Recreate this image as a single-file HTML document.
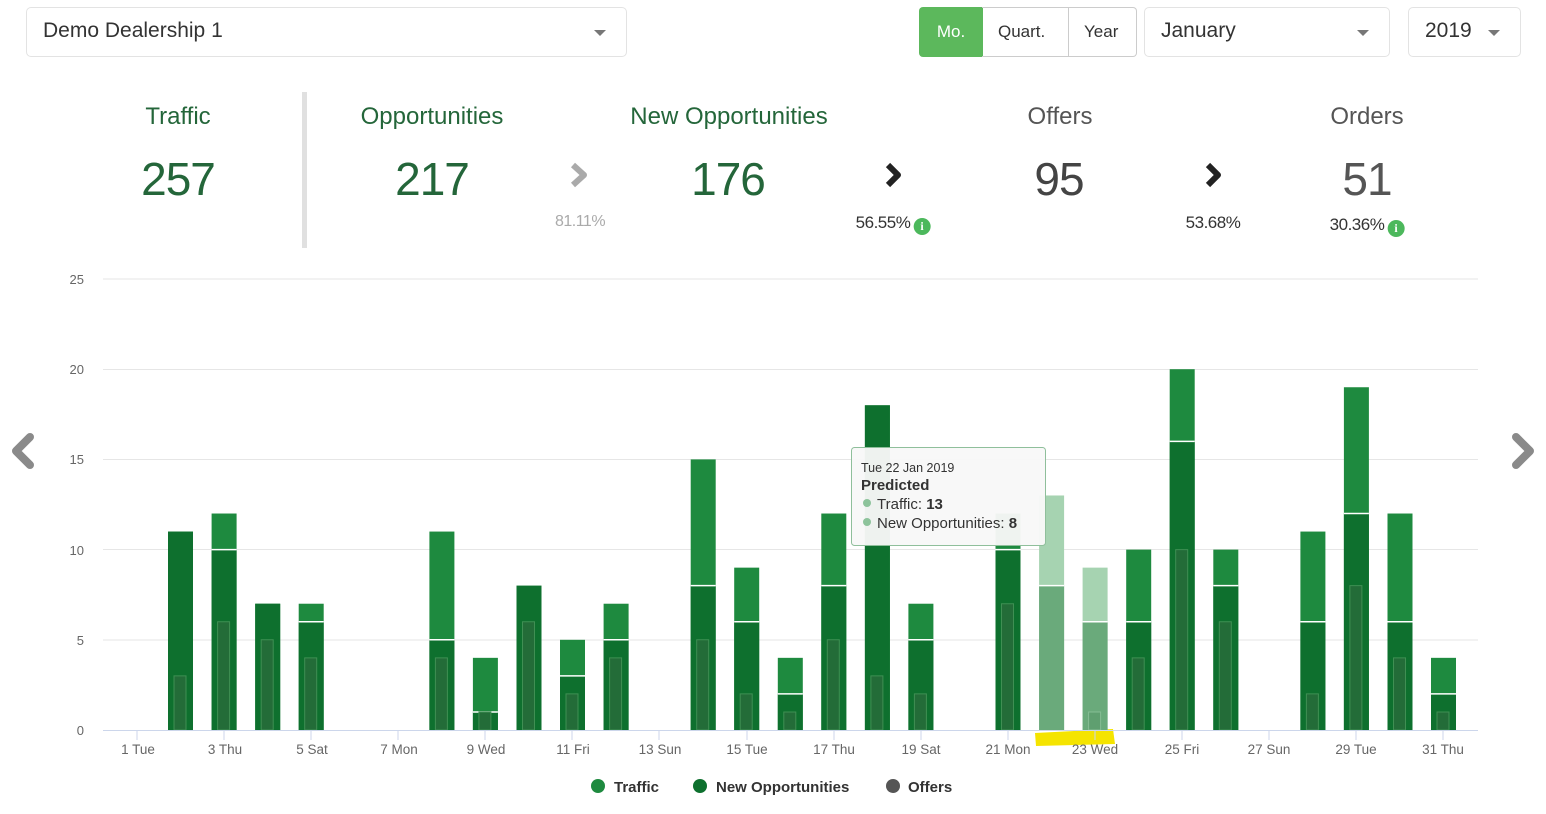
<!DOCTYPE html>
<html><head><meta charset="utf-8"><style>
body{margin:0;width:1546px;height:814px;background:#fff;font-family:"Liberation Sans",sans-serif;position:relative;overflow:hidden}
.a{position:absolute}
.box{position:absolute;border:1px solid #e3e3e3;border-radius:5px;background:#fff;box-sizing:border-box}
.caret{position:absolute;width:0;height:0;border-left:6px solid transparent;border-right:6px solid transparent;border-top:6px solid #777}
.t{position:absolute;text-align:center;font-size:24px;color:#24663a;transform:translateX(-50%);white-space:nowrap}
.n{position:absolute;text-align:center;font-size:46px;color:#24663a;transform:translateX(-50%);white-space:nowrap;letter-spacing:-1px}
.p{position:absolute;font-size:17px;color:#333;transform:translateX(-50%);white-space:nowrap;letter-spacing:-0.5px}
.i{display:inline-block;width:17px;height:17px;border-radius:50%;background:#4cb85c;color:#fff;font-size:12px;font-weight:bold;text-align:center;line-height:17px;vertical-align:-2px;margin-left:3px;font-family:"Liberation Serif",serif}
</style></head><body>
<div class="box" style="left:26px;top:7px;width:601px;height:50px"></div>
<div class="a" style="left:43px;top:19px;font-size:21px;color:#333">Demo Dealership 1</div>
<div class="caret" style="left:594px;top:30px"></div>

<div class="a" style="left:919px;top:7px;width:64px;height:50px;background:#5cb85c;border-radius:4px 0 0 4px;color:#fff;font-size:17px;text-align:center;line-height:50px">Mo.</div>
<div class="a" style="left:982px;top:7px;width:155px;height:50px;border:1px solid #ccc;border-left:none;box-sizing:border-box;border-radius:0 4px 4px 0"></div>
<div class="a" style="left:1068px;top:7px;width:1px;height:50px;background:#ccc"></div>
<div class="a" style="left:998px;top:22px;font-size:17px;color:#333">Quart.</div>
<div class="a" style="left:1084px;top:22px;font-size:17px;color:#333">Year</div>
<div class="box" style="left:1144px;top:7px;width:246px;height:50px"></div>
<div class="a" style="left:1161px;top:19px;font-size:21px;color:#333">January</div>
<div class="caret" style="left:1357px;top:30px"></div>
<div class="box" style="left:1408px;top:7px;width:113px;height:50px"></div>
<div class="a" style="left:1425px;top:19px;font-size:21px;color:#333">2019</div>
<div class="caret" style="left:1488px;top:30px"></div>

<div class="a" style="left:302px;top:92px;width:5px;height:156px;background:#e0e0e0"></div>
<div class="t" style="left:178px;top:103px">Traffic</div>
<div class="t" style="left:432px;top:103px">Opportunities</div>
<div class="t" style="left:729px;top:103px">New Opportunities</div>
<div class="t" style="left:1060px;top:103px;color:#555">Offers</div>
<div class="t" style="left:1367px;top:103px;color:#555">Orders</div>
<div class="n" style="left:178px;top:152px">257</div>
<div class="n" style="left:432px;top:152px">217</div>
<div class="n" style="left:728px;top:152px">176</div>
<div class="n" style="left:1059px;top:152px;color:#444">95</div>
<div class="n" style="left:1367px;top:152px;color:#555">51</div>
<svg class="a" style="left:0;top:0" width="1546" height="814">
<path d="M573 165 L584 175 L573 185" fill="none" stroke="#aaa" stroke-width="6" stroke-linejoin="round"/>
<path d="M888 165 L898 175 L888 185" fill="none" stroke="#222" stroke-width="6" stroke-linejoin="round"/>
<path d="M1208 165 L1218 175 L1208 185" fill="none" stroke="#222" stroke-width="6" stroke-linejoin="round"/>
<path d="M30 437 L16 451 L30 465" fill="none" stroke="#8a8a8a" stroke-width="8" stroke-linejoin="round" stroke-linecap="round"/>
<path d="M1516 437 L1530 451 L1516 465" fill="none" stroke="#8a8a8a" stroke-width="8" stroke-linejoin="round" stroke-linecap="round"/>
</svg>
<div class="p" style="left:580px;top:213px;color:#aaa;font-size:16px">81.11%</div>
<div class="p" style="left:893px;top:213px">56.55%<span class="i">i</span></div>
<div class="p" style="left:1213px;top:213px">53.68%</div>
<div class="p" style="left:1367px;top:215px">30.36%<span class="i">i</span></div>

<svg class="a" style="left:0;top:0" width="1546" height="814" font-family="'Liberation Sans',sans-serif">
<g stroke="#e6e6e6" stroke-width="1">
<line x1="103" x2="1478" y1="279" y2="279"/><line x1="103" x2="1478" y1="369.5" y2="369.5"/><line x1="103" x2="1478" y1="459.5" y2="459.5"/><line x1="103" x2="1478" y1="549.5" y2="549.5"/><line x1="103" x2="1478" y1="640" y2="640"/>
</g>
<g font-size="13" fill="#666" text-anchor="end">
<text x="84" y="284">25</text><text x="84" y="374">20</text><text x="84" y="464">15</text><text x="84" y="555">10</text><text x="84" y="645">5</text><text x="84" y="735">0</text>
</g>
<path d="M1035 733 L1113 729 L1115 744 L1036 746 Z" fill="#f5e400"/>
<g transform="matrix(1,0,0,-18.04,0,730)">
<g fill="#1e8a3f">
<rect x="168" y="0" width="25" height="11"/><rect x="211.6" width="25" height="12"/><rect x="255.2" width="25" height="7"/><rect x="298.7" width="25" height="7"/>
<rect x="429.4" width="25" height="11"/><rect x="472.9" width="25" height="4"/><rect x="516.5" width="25" height="8"/><rect x="560" width="25" height="5"/><rect x="603.6" width="25" height="7"/>
<rect x="690.7" width="25" height="15"/><rect x="734.2" width="25" height="9"/><rect x="777.8" width="25" height="4"/><rect x="821.3" width="25" height="12"/><rect x="864.9" width="25" height="18"/><rect x="908.4" width="25" height="7"/>
<rect x="995.5" width="25" height="12"/><rect x="1126.2" width="25" height="10"/><rect x="1169.7" width="25" height="20"/><rect x="1213.3" width="25" height="10"/>
<rect x="1300.4" width="25" height="11"/><rect x="1343.9" width="25" height="19"/><rect x="1387.5" width="25" height="12"/><rect x="1431" width="25" height="4"/>
</g>
<rect x="1039.1" width="25" height="13" fill="#a6d3b1"/><rect x="1082.6" width="25" height="9" fill="#a6d3b1"/>
<g fill="#0e702e">
<rect x="168" width="25" height="11"/><rect x="211.6" width="25" height="10"/><rect x="255.2" width="25" height="7"/><rect x="298.7" width="25" height="6"/>
<rect x="429.4" width="25" height="5"/><rect x="472.9" width="25" height="1"/><rect x="516.5" width="25" height="8"/><rect x="560" width="25" height="3"/><rect x="603.6" width="25" height="5"/>
<rect x="690.7" width="25" height="8"/><rect x="734.2" width="25" height="6"/><rect x="777.8" width="25" height="2"/><rect x="821.3" width="25" height="8"/><rect x="864.9" width="25" height="18"/><rect x="908.4" width="25" height="5"/>
<rect x="995.5" width="25" height="10"/><rect x="1126.2" width="25" height="6"/><rect x="1169.7" width="25" height="16"/><rect x="1213.3" width="25" height="8"/>
<rect x="1300.4" width="25" height="6"/><rect x="1343.9" width="25" height="12"/><rect x="1387.5" width="25" height="6"/><rect x="1431" width="25" height="2"/>
</g>
<rect x="1039.1" width="25" height="8" fill="#6aaa7b"/><rect x="1082.6" width="25" height="6" fill="#6aaa7b"/>
<g stroke="#fff" stroke-width="1.5">
<line x1="211.6" x2="236.6" y1="10" y2="10" vector-effect="non-scaling-stroke"/><line x1="298.7" x2="323.7" y1="6" y2="6" vector-effect="non-scaling-stroke"/>
<line x1="429.4" x2="454.4" y1="5" y2="5" vector-effect="non-scaling-stroke"/><line x1="472.9" x2="497.9" y1="1" y2="1" vector-effect="non-scaling-stroke"/><line x1="560" x2="585" y1="3" y2="3" vector-effect="non-scaling-stroke"/><line x1="603.6" x2="628.6" y1="5" y2="5" vector-effect="non-scaling-stroke"/>
<line x1="690.7" x2="715.7" y1="8" y2="8" vector-effect="non-scaling-stroke"/><line x1="734.2" x2="759.2" y1="6" y2="6" vector-effect="non-scaling-stroke"/><line x1="777.8" x2="802.8" y1="2" y2="2" vector-effect="non-scaling-stroke"/><line x1="821.3" x2="846.3" y1="8" y2="8" vector-effect="non-scaling-stroke"/><line x1="908.4" x2="933.4" y1="5" y2="5" vector-effect="non-scaling-stroke"/>
<line x1="995.5" x2="1020.5" y1="10" y2="10" vector-effect="non-scaling-stroke"/><line x1="1039.1" x2="1064.1" y1="8" y2="8" vector-effect="non-scaling-stroke"/><line x1="1082.6" x2="1107.6" y1="6" y2="6" vector-effect="non-scaling-stroke"/><line x1="1126.2" x2="1151.2" y1="6" y2="6" vector-effect="non-scaling-stroke"/><line x1="1169.7" x2="1194.7" y1="16" y2="16" vector-effect="non-scaling-stroke"/><line x1="1213.3" x2="1238.3" y1="8" y2="8" vector-effect="non-scaling-stroke"/>
<line x1="1300.4" x2="1325.4" y1="6" y2="6" vector-effect="non-scaling-stroke"/><line x1="1343.9" x2="1368.9" y1="12" y2="12" vector-effect="non-scaling-stroke"/><line x1="1387.5" x2="1412.5" y1="6" y2="6" vector-effect="non-scaling-stroke"/><line x1="1431" x2="1456" y1="2" y2="2" vector-effect="non-scaling-stroke"/>
</g>
<g fill="#236c38" stroke="#3f8f53" stroke-width="1">
<rect x="174" width="12" height="3" vector-effect="non-scaling-stroke"/><rect x="217.6" width="12" height="6" vector-effect="non-scaling-stroke"/><rect x="261.2" width="12" height="5" vector-effect="non-scaling-stroke"/><rect x="304.7" width="12" height="4" vector-effect="non-scaling-stroke"/>
<rect x="435.4" width="12" height="4" vector-effect="non-scaling-stroke"/><rect x="478.9" width="12" height="1" vector-effect="non-scaling-stroke"/><rect x="522.5" width="12" height="6" vector-effect="non-scaling-stroke"/><rect x="566" width="12" height="2" vector-effect="non-scaling-stroke"/><rect x="609.6" width="12" height="4" vector-effect="non-scaling-stroke"/>
<rect x="696.7" width="12" height="5" vector-effect="non-scaling-stroke"/><rect x="740.2" width="12" height="2" vector-effect="non-scaling-stroke"/><rect x="783.8" width="12" height="1" vector-effect="non-scaling-stroke"/><rect x="827.3" width="12" height="5" vector-effect="non-scaling-stroke"/><rect x="870.9" width="12" height="3" vector-effect="non-scaling-stroke"/><rect x="914.4" width="12" height="2" vector-effect="non-scaling-stroke"/>
<rect x="1001.5" width="12" height="7" vector-effect="non-scaling-stroke"/><rect x="1132.2" width="12" height="4" vector-effect="non-scaling-stroke"/><rect x="1175.7" width="12" height="10" vector-effect="non-scaling-stroke"/><rect x="1219.3" width="12" height="6" vector-effect="non-scaling-stroke"/>
<rect x="1306.4" width="12" height="2" vector-effect="non-scaling-stroke"/><rect x="1349.9" width="12" height="8" vector-effect="non-scaling-stroke"/><rect x="1393.5" width="12" height="4" vector-effect="non-scaling-stroke"/><rect x="1437" width="12" height="1" vector-effect="non-scaling-stroke"/>
</g>
<rect x="1088.6" width="12" height="1" fill="#5f9f70" stroke="#86bd94" vector-effect="non-scaling-stroke"/>
</g>
<line x1="103" x2="1478" y1="730.5" y2="730.5" stroke="#ccd6eb"/>
<g stroke="#ccd6eb"><line x1="137" x2="137" y1="731" y2="740"/><line x1="224" x2="224" y1="731" y2="740"/><line x1="311" x2="311" y1="731" y2="740"/><line x1="398" x2="398" y1="731" y2="740"/><line x1="485" x2="485" y1="731" y2="740"/><line x1="572" x2="572" y1="731" y2="740"/><line x1="659" x2="659" y1="731" y2="740"/><line x1="747" x2="747" y1="731" y2="740"/><line x1="834" x2="834" y1="731" y2="740"/><line x1="921" x2="921" y1="731" y2="740"/><line x1="1008" x2="1008" y1="731" y2="740"/><line x1="1095" x2="1095" y1="731" y2="740"/><line x1="1182" x2="1182" y1="731" y2="740"/><line x1="1269" x2="1269" y1="731" y2="740"/><line x1="1356" x2="1356" y1="731" y2="740"/><line x1="1443" x2="1443" y1="731" y2="740"/></g>
<g font-size="13.5" fill="#666" text-anchor="middle">
<text x="138" y="754">1 Tue</text><text x="225" y="754">3 Thu</text><text x="312" y="754">5 Sat</text><text x="399" y="754">7 Mon</text><text x="486" y="754">9 Wed</text><text x="573" y="754">11 Fri</text><text x="660" y="754">13 Sun</text><text x="747" y="754">15 Tue</text><text x="834" y="754">17 Thu</text><text x="921" y="754">19 Sat</text><text x="1008" y="754">21 Mon</text><text x="1095" y="754">23 Wed</text><text x="1182" y="754">25 Fri</text><text x="1269" y="754">27 Sun</text><text x="1356" y="754">29 Tue</text><text x="1443" y="754">31 Thu</text>
</g>
<rect x="851.5" y="447.5" width="194" height="98" rx="3" fill="#f8f8f8" fill-opacity="0.96" stroke="#8fbf9b"/>
<text x="861" y="472" font-size="12.5" fill="#333">Tue 22 Jan 2019</text>
<text x="861" y="490" font-size="15" font-weight="bold" fill="#333">Predicted</text>
<circle cx="867" cy="503" r="4" fill="#8dc39b"/><text x="877" y="509" font-size="15" fill="#333">Traffic: <tspan font-weight="bold">13</tspan></text>
<circle cx="867" cy="522" r="4" fill="#8dc39b"/><text x="877" y="528" font-size="15" fill="#333">New Opportunities: <tspan font-weight="bold">8</tspan></text>
<g font-size="15" font-weight="bold" fill="#333">
<circle cx="598" cy="786" r="7" fill="#1e8a3f"/><text x="614" y="792">Traffic</text>
<circle cx="700" cy="786" r="7" fill="#0e702e"/><text x="716" y="792">New Opportunities</text>
<circle cx="893" cy="786" r="7" fill="#555"/><text x="908" y="792">Offers</text>
</g>
</svg>
</body></html>
